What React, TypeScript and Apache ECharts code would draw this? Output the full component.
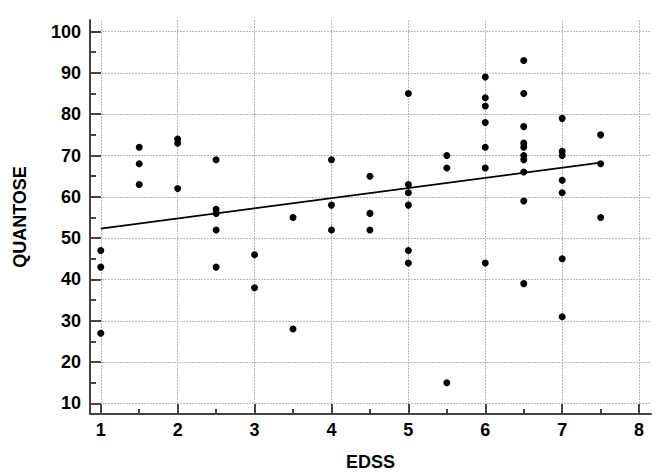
import React, { useEffect, useRef } from "react";
import * as echarts from "echarts";

const xTicks = [1, 2, 3, 4, 5, 6, 7, 8];
const xMinorTicks = [1.5, 2.5, 3.5, 4.5, 5.5, 6.5, 7.5];
const yTicks = [10, 20, 30, 40, 50, 60, 70, 80, 90, 100];
const yMinorTicks = [15, 25, 35, 45, 55, 65, 75, 85, 95];

const edss = [
  1, 1, 1,
  1.5, 1.5, 1.5,
  2, 2, 2,
  2.5, 2.5, 2.5, 2.5, 2.5,
  3, 3,
  3.5, 3.5,
  4, 4, 4,
  4.5, 4.5, 4.5,
  5, 5, 5, 5, 5, 5,
  5.5, 5.5, 5.5,
  6, 6, 6, 6, 6, 6, 6,
  6.5, 6.5, 6.5, 6.5, 6.5, 6.5, 6.5, 6.5, 6.5, 6.5,
  7, 7, 7, 7, 7, 7, 7,
  7.5, 7.5, 7.5,
];
const quantose = [
  47, 43, 27,
  72, 68, 63,
  74, 73, 62,
  69, 57, 56, 52, 43,
  46, 38,
  55, 28,
  69, 58, 52,
  65, 56, 52,
  85, 63, 61, 58, 47, 44,
  70, 67, 15,
  89, 84, 82, 78, 72, 67, 44,
  93, 85, 77, 73, 72, 70, 69, 66, 59, 39,
  79, 71, 70, 64, 61, 45, 31,
  75, 68, 55,
];
const fitX = [1, 7.5];
const fitY = [52.3, 68.3];

const X_MIN = 0.86;
const X_MAX = 8.155;
const Y_MIN = 7.45;
const Y_MAX = 102.8;

const AXIS_COLOR = "#444444";
const FONT = "'Liberation Sans', Arial, sans-serif";

export default function App() {
  const ref = useRef<HTMLDivElement>(null);
  useEffect(() => {
    if (!ref.current) return;
    const chart = echarts.init(ref.current, null, { renderer: "svg" });
    const labelStyle = {
      color: "#000",
      fontFamily: FONT,
      fontWeight: "bold" as const,
      fontSize: 18,
    };
    chart.setOption({
      animation: false,
      backgroundColor: "#fff",
      grid: { left: 90, top: 20, right: 19, bottom: 55, containLabel: false },
      xAxis: [
        {
          type: "value",
          min: X_MIN,
          max: X_MAX,
          name: "EDSS",
          nameLocation: "middle",
          nameGap: 39,
          nameTextStyle: { ...labelStyle },
          axisLine: { show: true, onZero: false, lineStyle: { color: AXIS_COLOR, width: 2 } },
          axisTick: { show: true, inside: true, length: 10, customValues: xTicks, lineStyle: { color: AXIS_COLOR, width: 2 } },
          axisLabel: { show: true, customValues: xTicks, margin: 7, ...labelStyle },
          splitLine: { show: true, lineStyle: { color: "#b8b8b8", type: [2, 1], width: 1 } },
        },
        {
          type: "value",
          min: X_MIN,
          max: X_MAX,
          position: "bottom",
          axisLine: { show: false, onZero: false },
          axisTick: { show: true, inside: true, length: 5, customValues: xMinorTicks, lineStyle: { color: AXIS_COLOR, width: 2 } },
          axisLabel: { show: false, customValues: xMinorTicks },
          splitLine: { show: false },
        },
      ],
      yAxis: [
        {
          type: "value",
          min: Y_MIN,
          max: Y_MAX,
          name: "QUANTOSE",
          nameLocation: "middle",
          nameGap: 61,
          nameRotate: 90,
          nameTextStyle: { ...labelStyle },
          axisLine: { show: true, onZero: false, lineStyle: { color: AXIS_COLOR, width: 2 } },
          axisTick: { show: true, inside: true, length: 11, customValues: yTicks, lineStyle: { color: AXIS_COLOR, width: 2 } },
          axisLabel: { show: true, customValues: yTicks, margin: 9, ...labelStyle },
          splitLine: { show: true, lineStyle: { color: "#b8b8b8", type: [2, 1], width: 1 } },
        },
        {
          type: "value",
          min: Y_MIN,
          max: Y_MAX,
          position: "left",
          axisLine: { show: false, onZero: false },
          axisTick: { show: true, inside: true, length: 6, customValues: yMinorTicks, lineStyle: { color: AXIS_COLOR, width: 2 } },
          axisLabel: { show: false, customValues: yMinorTicks },
          splitLine: { show: false },
        },
      ],
      series: [
        {
          type: "scatter",
          xAxisIndex: 0,
          yAxisIndex: 0,
          symbol: "circle",
          symbolSize: 7,
          itemStyle: { color: "#000", opacity: 1 },
          data: edss.map((x, i) => [x, quantose[i]]),
          z: 3,
        },
        {
          type: "line",
          xAxisIndex: 0,
          yAxisIndex: 0,
          showSymbol: false,
          symbol: "none",
          lineStyle: { color: "#000", width: 1.8 },
          data: fitX.map((x, i) => [x, fitY[i]]),
          z: 4,
        },
      ],
    });
    return () => chart.dispose();
  }, []);
  return <div ref={ref} style={{ width: 670, height: 476, position: "absolute", left: 0, top: 0 }} />;
}
